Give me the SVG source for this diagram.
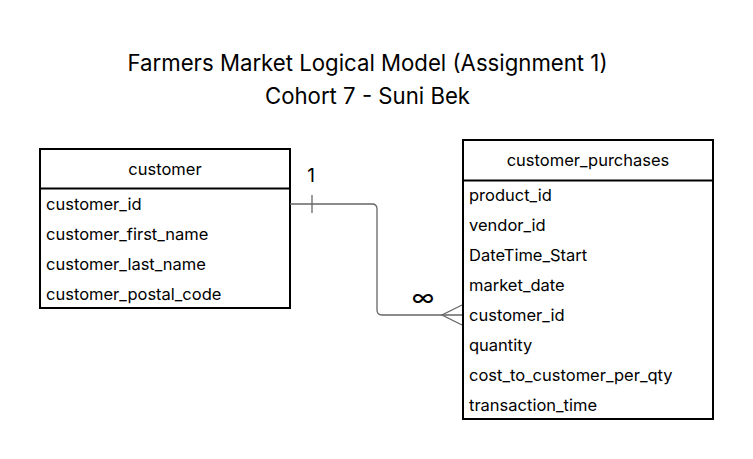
<svg xmlns="http://www.w3.org/2000/svg" width="753" height="459" viewBox="0 0 753 459">
<style>
text{font-family:Inter,"Liberation Sans",sans-serif;fill:#000}
.title{font-size:22.2px;text-anchor:middle}
.hdr{font-size:16.5px;text-anchor:middle}
.row{font-size:16.5px}
.box{fill:#fff;stroke:#000;stroke-width:2}
.div{stroke:#000;stroke-width:2}
.conn{fill:none;stroke:#666;stroke-width:1.3}
</style>
<rect width="753" height="459" fill="#fff"/>
<g id="title">
<text class="title" x="367.5" y="71">Farmers Market Logical Model (Assignment 1)</text>
<text class="title" x="367.5" y="104">Cohort 7 - Suni Bek</text>
</g>
<g id="customer">
<rect class="box" x="40" y="149" width="250" height="159"/>
<line class="div" x1="40" y1="188.5" x2="290" y2="188.5"/>
<text class="hdr" x="165" y="175">customer</text>
<text class="row" x="46" y="210">customer_id</text>
<text class="row" x="46" y="240">customer_first_name</text>
<text class="row" x="46" y="270">customer_last_name</text>
<text class="row" x="46" y="300">customer_postal_code</text>
</g>
<g id="customer_purchases">
<rect class="box" x="463" y="140" width="250" height="279"/>
<line class="div" x1="463" y1="180.5" x2="713" y2="180.5"/>
<text class="hdr" x="588" y="166">customer_purchases</text>
<text class="row" x="469" y="201">product_id</text>
<text class="row" x="469" y="231">vendor_id</text>
<text class="row" x="469" y="261">DateTime_Start</text>
<text class="row" x="469" y="291">market_date</text>
<text class="row" x="469" y="321">customer_id</text>
<text class="row" x="469" y="351">quantity</text>
<text class="row" x="469" y="381">cost_to_customer_per_qty</text>
<text class="row" x="469" y="411">transaction_time</text>
</g>
<g id="connectors">
<path class="conn" d="M290,204 H372 Q377,204 377,209 V310 Q377,315 382,315 H462"/>
<line class="conn" x1="312" y1="195" x2="312" y2="213"/>
<path class="conn" d="M462,305 L442,315 L462,325"/>
<text x="311" y="182" style="font-size:19px;text-anchor:middle">1</text>
<text x="423" y="306" style="font-size:24px;text-anchor:middle">∞</text>
</g>
</svg>
